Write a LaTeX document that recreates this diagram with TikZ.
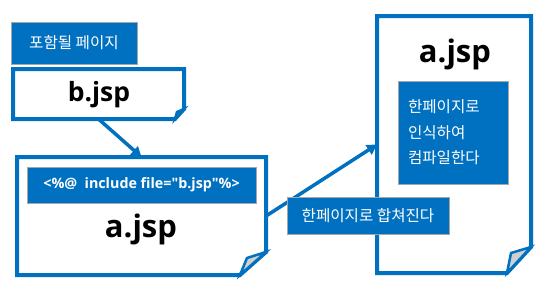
\documentclass[tikz,border=0pt]{standalone}
\usepackage{fontspec}
\setmainfont{Open Sans}[Ligatures=TeXOff]
\newfontfamily\kr{Noto Sans CJK KR}
\usetikzlibrary{arrows.meta,calc}
\definecolor{mblue}{HTML}{0070C0}
\definecolor{lgray}{HTML}{A6A6A6}
\definecolor{fgray}{HTML}{D0D0D0}
\newcommand{\foldpage}[5]{%
  \draw[pageline] (#1.north west) -- (#1.north east) -- ($(#1.south east)+(0,-#3)$)
    -- ($(#1.south east)+(-#2,0)$) -- (#1.south west) -- cycle;
  \draw[foldline] ($(#1.south east)+(-#2,0)$) -- ($(#1.south east)+(-#2+#4,-#5)$)
    -- ($(#1.south east)+(0,-#3)$) -- cycle;}
\begin{document}
\begin{tikzpicture}[x=1pt,y=-1pt,
  pagebox/.style={draw=none,inner sep=0pt,outer sep=0pt},
  pageline/.style={draw=mblue,line width=4pt,line join=miter,fill=white},
  foldline/.style={draw=mblue,line width=2.5pt,line join=miter,fill=fgray},
  conn/.style={draw=mblue,line width=3.5pt,-{Triangle[length=10pt,width=11pt]}},
  labelbox/.style={fill=mblue,draw=lgray,line width=1pt,text=white,inner sep=0pt,outer sep=0pt},
  bigtxt/.style={font=\bfseries,inner sep=0pt,anchor=base}]
\useasboundingbox (0,0) rectangle (547,290);
% pages
\node[pagebox,minimum width=171pt,minimum height=50pt] (bpage) at (98.5,94) {};
\node[pagebox,minimum width=249pt,minimum height=118pt] (apage) at (141.5,216) {};
\node[pagebox,minimum width=154pt,minimum height=257pt] (cpage) at (454,144.5) {};
\foldpage{bpage}{9}{10}{2}{7}
\foldpage{apage}{26}{23}{7}{17}
\foldpage{cpage}{24}{26}{4}{20}
% arrows
\draw[conn] (bpage.south) -- (apage.north);
\draw[conn] (apage.east) -- (cpage.west);
% big texts
\node[bigtxt,font=\fontsize{26.5}{30}\selectfont\bfseries] (btxt) at (99,101) {b.jsp};
\node[bigtxt,font=\fontsize{31}{34}\selectfont\bfseries] (atxt) at (141,237) {a.jsp};
\node[bigtxt,font=\fontsize{31}{34}\selectfont\bfseries] (ctxt) at (455,62) {a.jsp};
% labels
\node[labelbox,minimum width=126pt,minimum height=42pt,font=\kr\fontsize{15.6}{17}\selectfont] (lab1) at (74,43) {포함될 페이지};
\node[labelbox,minimum width=229pt,minimum height=36pt,font=\fontsize{14.3}{16}\selectfont\bfseries] (lab2) at (141.5,185) {<\%@\ \ include file="b.jsp"\%>};
\node[labelbox,minimum width=110pt,minimum height=103pt,text width=90pt,inner xsep=10pt,align=left,font=\kr\fontsize{15.6}{25.5}\selectfont] (lab3) at (453,132.5) {한페이지로\\인식하여\\컴파일한다};
\node[labelbox,minimum width=162pt,minimum height=37pt,font=\kr\fontsize{15.6}{17}\selectfont] (lab4) at (368,215.5) {한페이지로 합쳐진다};
\end{tikzpicture}
\end{document}
